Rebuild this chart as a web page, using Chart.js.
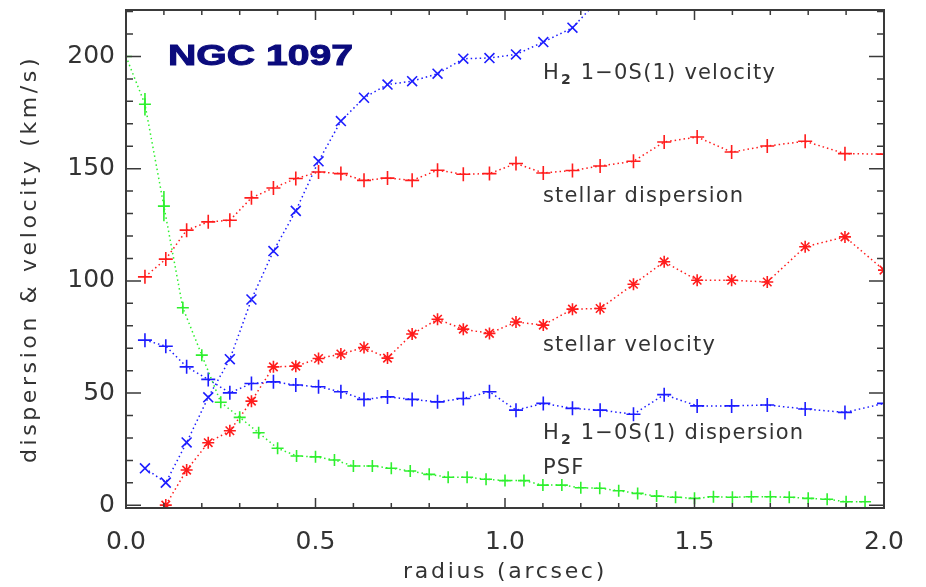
<!DOCTYPE html>
<html>
<head>
<meta charset="utf-8">
<script src="https://cdn.jsdelivr.net/npm/chart.js@4"></script>
<style>
  body { margin: 0; background: #fff; }
  canvas { display: block; }
</style>
</head>
<body>
<canvas id="myChart" width="926" height="587"></canvas>
<script>
// radius bins for stellar / H2 measurements (arcsec)
const binX = [0.05, 0.105, 0.16, 0.217, 0.274, 0.331, 0.389, 0.448, 0.508, 0.567, 0.628, 0.69, 0.755, 0.822,
  0.89, 0.959, 1.029, 1.101, 1.178, 1.251, 1.339, 1.42, 1.507, 1.598, 1.692, 1.792, 1.897, 2.0];

const h2Velocity = [16.5, 10.1, 28, 48.1, 65.1, 91.7, 113.3, 131.2, 153.3, 171.2, 181.6, 187.5, 189, 192.3,
  199, 199.3, 200.9, 206.4, 212.8, 226, null, null, null, null, null, null, null, null];
const stellarDispersion = [101.8, 109.7, 122.6, 126.3, 127, 137, 141.4, 145.6, 148.5, 147.8, 144.8, 145.8, 144.8, 149.3,
  147.5, 147.8, 152.3, 148.1, 149.2, 151.2, 153.3, 161.9, 164.1, 157.4, 160.1, 162.2, 156.7, 156.5];
const stellarVelocity = [null, 0.1, 15.7, 27.9, 33.2, 46.4, 61.7, 62, 65.4, 67.4, 70.3, 65.6, 76.3, 82.9,
  78.5, 76.6, 81.7, 80.3, 87.4, 87.7, 98.5, 108.5, 100.3, 100.3, 99.5, 115.2, 119.6, 104.8];
const h2Dispersion = [73.6, 70.9, 61.7, 56.1, 50.1, 54.3, 55.0, 53.6, 52.8, 50.6, 47.2, 48.3, 47.2, 46.1,
  47.6, 50.6, 42.4, 45.4, 43.2, 42.4, 40.6, 49.3, 44.3, 44.3, 44.7, 42.9, 41.4, 45.4];

// PSF profile, sampled every 0.05"
const psfX = [0, 0.05, 0.1, 0.15, 0.2, 0.25, 0.3, 0.35, 0.4, 0.45, 0.5, 0.55, 0.6, 0.65, 0.7, 0.75, 0.8, 0.85, 0.9, 0.95,
  1.0, 1.05, 1.1, 1.15, 1.2, 1.25, 1.3, 1.35, 1.4, 1.45, 1.5, 1.55, 1.6, 1.65, 1.7, 1.75, 1.8, 1.85, 1.9, 1.95];
const psf = [200, 178.7, 133.3, 88, 66.9, 45.9, 39.2, 32.3, 25.4, 22, 21.6, 20.2, 17.5, 17.5, 16.5, 15.3, 13.8, 12.5, 12.5, 11.6,
  11, 11, 9, 9, 7.8, 7.6, 6.5, 5.3, 4.1, 3.6, 3.1, 3.8, 3.6, 3.8, 3.8, 3.6, 3.1, 2.7, 1.6, 1.6];
const psfErr = [0, 5, 6.7];

const xTicks = [0, 0.5, 1.0, 1.5, 2.0];
const yTicks = [0, 50, 100, 150, 200];

// "_2" marks a subscript 2
const curveLabels = ["H_2 1\u22120S(1) velocity", "stellar dispersion", "stellar velocity", "H_2 1\u22120S(1) dispersion", "PSF"];
const xTitle = "radius (arcsec)";
const yTitle = "dispersion & velocity (km/s)";

const RED = "#ff1c1c";
const BLUE = "#1c1cff";
const GREEN = "#2ef02e";
const TXT = "#333333";
const FONT = "'DejaVu Sans', sans-serif";

function toPoints(xs, ys){
    return xs.map((x, i) => ({ x: x, y: ys[i] })).filter(p => p.y !== undefined);
}

function makeSet(label, xs, ys, color, style, radius){
    return {
        label: label,
        data: toPoints(xs, ys),
        borderColor: color,
        backgroundColor: color,
        borderWidth: 1.5,
        borderDash: [1.5, 3],
        pointStyle: style,
        pointRadius: radius,
        pointBorderWidth: 1.6,
        pointBorderColor: color,
        showLine: true,
        spanGaps: false,
        tension: 0
    };
}

function drawLabel(ctx, text, x, y){
    const parts = text.split("_2");
    if(parts.length === 1){
        ctx.fillText(text, x, y);
        return;
    }
    ctx.fillText(parts[0], x, y);
    let cx = x + ctx.measureText(parts[0]).width;
    ctx.save();
    ctx.font = "bold 14px " + FONT;
    ctx.fillText("2", cx + 1, y + 5);
    cx += ctx.measureText("2").width + 2;
    ctx.restore();
    ctx.fillText(parts[1], cx, y);
}

// frame, inward ticks, psf error bars, axis titles and text annotations
const decorPlugin = {
    id: "decor",
    afterDatasetsDraw(chart){
        const ctx = chart.ctx;
        const a = chart.chartArea;
        const xs = chart.scales.x;
        const ys = chart.scales.y;

        // psf error bars
        ctx.save();
        ctx.strokeStyle = GREEN;
        ctx.lineWidth = 1.6;
        psfErr.forEach((e, i) => {
            if(!e) return;
            const px = xs.getPixelForValue(psfX[i]);
            ctx.beginPath();
            ctx.moveTo(px, ys.getPixelForValue(psf[i] - e));
            ctx.lineTo(px, ys.getPixelForValue(psf[i] + e));
            ctx.stroke();
        });
        ctx.restore();

        ctx.save();
        ctx.strokeStyle = "#3a3a3a";
        ctx.lineWidth = 2;
        ctx.strokeRect(a.left, a.top, a.right - a.left, a.bottom - a.top);

        ctx.lineWidth = 1.5;
        ctx.beginPath();
        // x ticks every 0.1, major every 0.5
        for(let k = 0; k <= 20; k++){
            const v = k / 10;
            const px = xs.getPixelForValue(v);
            const len = (k % 5 === 0) ? 10 : 5;
            ctx.moveTo(px, a.bottom); ctx.lineTo(px, a.bottom - len);
            ctx.moveTo(px, a.top); ctx.lineTo(px, a.top + len);
        }
        // y ticks every 10, major every 50
        for(let v = 0; v <= 220; v += 10){
            const py = ys.getPixelForValue(v);
            const len = (v % 50 === 0) ? 15 : 7;
            ctx.moveTo(a.left, py); ctx.lineTo(a.left + len, py);
            ctx.moveTo(a.right, py); ctx.lineTo(a.right - len, py);
        }
        ctx.stroke();
        ctx.restore();

        // axis titles
        ctx.save();
        ctx.fillStyle = TXT;
        ctx.font = "22px " + FONT;
        ctx.textAlign = "center";
        ctx.textBaseline = "middle";
        ctx.letterSpacing = "2.7px";
        ctx.fillText(xTitle, (a.left + a.right) / 2, chart.height - 15);
        ctx.letterSpacing = "3.6px";
        ctx.translate(30, (a.top + a.bottom) / 2);
        ctx.rotate(-Math.PI / 2);
        ctx.fillText(yTitle, 0, 0);
        ctx.restore();

        // curve labels
        const labelYs = [190.1, 135, 68.7, 29.4, 13.9];
        ctx.save();
        ctx.fillStyle = TXT;
        ctx.font = "21px " + FONT;
        ctx.letterSpacing = "1.2px";
        ctx.textAlign = "left";
        ctx.textBaseline = "alphabetic";
        curveLabels.forEach((t, i) => {
            drawLabel(ctx, t, xs.getPixelForValue(1.10), ys.getPixelForValue(labelYs[i]));
        });

        // galaxy name
        ctx.letterSpacing = "0px";
        ctx.font = "bold 30px 'Liberation Sans', Arial, sans-serif";
        ctx.fillStyle = "#0b0b7d";
        ctx.strokeStyle = "#0b0b7d";
        ctx.lineWidth = 1;
        const name = "NGC 1097";
        const w = ctx.measureText(name).width;
        ctx.translate(xs.getPixelForValue(0.111), ys.getPixelForValue(196));
        ctx.scale(185 / w, 1);
        ctx.fillText(name, 0, 0);
        ctx.strokeText(name, 0, 0);
        ctx.restore();
    }
};

const chart = new Chart("myChart", {
    type: "scatter",
    data: {
        datasets: [
            makeSet("psf", psfX, psf, GREEN, "cross", 6),
            makeSet("h2disp", binX, h2Dispersion, BLUE, "cross", 7),
            makeSet("stellarvel", binX, stellarVelocity, RED, "star", 6),
            makeSet("stellardisp", binX, stellarDispersion, RED, "cross", 7),
            makeSet("h2vel", binX, h2Velocity, BLUE, "crossRot", 7)
        ]
    },
    options: {
        responsive: false,
        animation: false,
        layout: { padding: { top: 10, right: 42, left: 0, bottom: 0 } },
        plugins: {
            legend: { display: false },
            tooltip: { enabled: false }
        },
        scales: {
            x: {
                type: "linear",
                min: 0,
                max: 2,
                grid: { display: false, drawTicks: false },
                border: { display: false },
                afterBuildTicks: s => { s.ticks = xTicks.map(v => ({ value: v })); },
                afterFit: s => { s.height = 79; s.paddingLeft = 0; s.paddingRight = 0; },
                ticks: {
                    color: TXT,
                    padding: 19,
                    font: { family: FONT, size: 25 },
                    maxRotation: 0,
                    callback: v => v.toFixed(1)
                }
            },
            y: {
                type: "linear",
                min: -1.2,
                max: 220.7,
                grid: { display: false, drawTicks: false },
                border: { display: false },
                afterBuildTicks: s => { s.ticks = yTicks.map(v => ({ value: v })); },
                afterFit: s => { s.width = 126; s.paddingTop = 0; s.paddingBottom = 0; },
                ticks: {
                    color: TXT,
                    padding: 11,
                    font: { family: FONT, size: 25 }
                }
            }
        }
    },
    plugins: [decorPlugin]
});
</script>
</body>
</html>
